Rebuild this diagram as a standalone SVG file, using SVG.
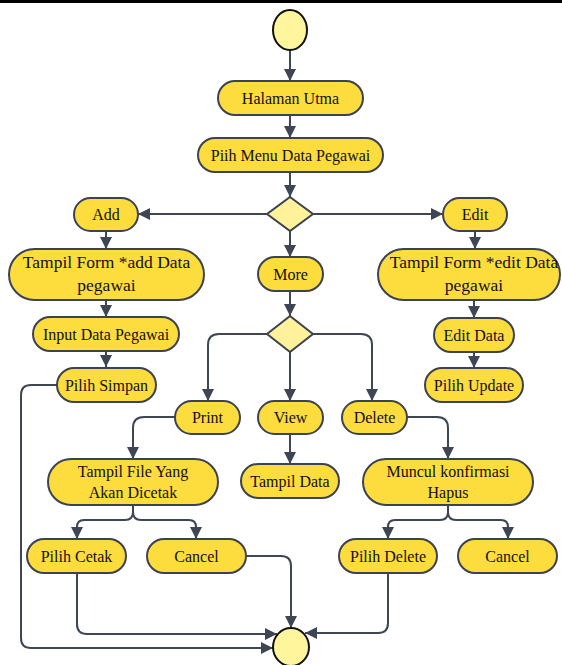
<svg xmlns="http://www.w3.org/2000/svg" width="562" height="665" viewBox="0 0 562 665">
<defs>
<style>
.n{fill:#FDDC3E;stroke:#3B4250;stroke-width:2}
.c{fill:#FFF59C;stroke:#111;stroke-width:2}
.d{fill:#FFF29A;stroke:#3B4250;stroke-width:2}
.t{font-size:16px;fill:#111;text-anchor:middle}
.tb{font-size:17.5px}
.e{fill:none;stroke:#3F4653;stroke-width:2;marker-end:url(#ah)}
</style>
<marker id="ah" viewBox="0 0 10 10" refX="10" refY="5" markerWidth="12" markerHeight="12" markerUnits="userSpaceOnUse" orient="auto">
<path d="M0,0 L10,5 L0,10 z" fill="#3F4653"/>
</marker>
</defs>
<rect x="0" y="0" width="562" height="3" fill="#000"/>
<g id="connectors">
<path class="e" d="M290,50 L290,81"/>
<path class="e" d="M290,115 L290,138"/>
<path class="e" d="M290,172 L290,197"/>
<path class="e" d="M267,214 L138,214"/>
<path class="e" d="M313,214 L443,214"/>
<path class="e" d="M290,231 L290,257"/>
<path class="e" d="M106,231 L106,249"/>
<path class="e" d="M106,300 L106,317"/>
<path class="e" d="M106,351 L106,367"/>
<path class="e" d="M290,291 L290,316"/>
<path class="e" d="M267,334 L219,334 Q208,334 208,345 L208,401"/>
<path class="e" d="M290,352 L290,401"/>
<path class="e" d="M313,334 L361,334 Q372,334 372,345 L372,401"/>
<path class="e" d="M175,417 L144,417 Q133,417 133,428 L133,459"/>
<path class="e" d="M290,434 L290,464"/>
<path class="e" d="M407,417 L437,417 Q448,417 448,428 L448,459"/>
<path class="e" d="M133,505 L133,512 Q133,520 125,520 L84,520 Q77,520 77,527 L77,539"/>
<path class="e" d="M133,505 L133,512 Q133,520 141,520 L189,520 Q196,520 196,527 L196,539"/>
<path class="e" d="M448,505 L448,512 Q448,520 440,520 L395,520 Q388,520 388,527 L388,539"/>
<path class="e" d="M448,505 L448,512 Q448,520 456,520 L501,520 Q508,520 508,527 L508,539"/>
<path class="e" d="M77,573 L77,624 Q77,634 87,634 L277,634"/>
<path class="e" d="M57,385 L31,385 Q21,385 21,395 L21,638 Q21,648 31,648 L273,648"/>
<path class="e" d="M246,556 L281,556 Q291,556 291,566 L291,628"/>
<path class="e" d="M388,573 L388,623 Q388,633 378,633 L305,633"/>
<path class="e" d="M475,231 L475,249"/>
<path class="e" d="M474,300 L474,318"/>
<path class="e" d="M474,352 L474,368"/>
</g>
<g font-family="'Liberation Serif', 'DejaVu Serif', serif">
<g id="start"><ellipse class="c" cx="290" cy="30" rx="17" ry="20"/></g>
<g id="halaman"><rect class="n" x="218" y="81" width="145" height="34" rx="17"/><text class="t" x="290.5" y="103.5">Halaman Utma</text></g>
<g id="piih"><rect class="n" x="198" y="138" width="185" height="34" rx="17"/><text class="t" x="290.5" y="160.5">Piih Menu Data Pegawai</text></g>
<g id="dec1"><polygon class="d" points="290,197 313,214 290,231 267,214"/></g>
<g id="add"><rect class="n" x="74" y="198" width="64" height="33" rx="16.5"/><text class="t" x="106" y="220">Add</text></g>
<g id="tampiladd"><rect class="n" x="9" y="249" width="195" height="51" rx="25.5"/><text class="t tb" x="106.5" y="268">Tampil Form *add Data</text><text class="t tb" x="106.5" y="291">pegawai</text></g>
<g id="input"><rect class="n" x="33" y="317" width="146" height="34" rx="17"/><text class="t" x="106" y="339.5">Input Data Pegawai</text></g>
<g id="simpan"><rect class="n" x="57" y="368" width="99" height="34" rx="17"/><text class="t" x="106.5" y="390.5">Pilih Simpan</text></g>
<g id="edit"><rect class="n" x="443" y="198" width="64" height="33" rx="16.5"/><text class="t" x="475" y="220">Edit</text></g>
<g id="tampiledit"><rect class="n" x="378" y="249" width="182" height="51" rx="25.5"/><text class="t tb" x="474" y="268">Tampil Form *edit Data</text><text class="t tb" x="474" y="291">pegawai</text></g>
<g id="editdata"><rect class="n" x="434" y="318" width="80" height="34" rx="17"/><text class="t" x="474" y="340.5">Edit Data</text></g>
<g id="update"><rect class="n" x="425" y="368" width="98" height="34" rx="17"/><text class="t" x="474" y="390.5">Pilih Update</text></g>
<g id="more"><rect class="n" x="258" y="257" width="65" height="34" rx="17"/><text class="t" x="290.5" y="279.5">More</text></g>
<g id="dec2"><polygon class="d" points="290,316 313,334 290,352 267,334"/></g>
<g id="print"><rect class="n" x="175" y="401" width="65" height="33" rx="16.5"/><text class="t" x="207.5" y="423">Print</text></g>
<g id="view"><rect class="n" x="258" y="401" width="65" height="33" rx="16.5"/><text class="t" x="290.5" y="423">View</text></g>
<g id="delete"><rect class="n" x="342" y="401" width="65" height="33" rx="16.5"/><text class="t" x="374.5" y="423">Delete</text></g>
<g id="tampilfile"><rect class="n" x="48" y="459" width="170" height="46" rx="23"/><text class="t" x="133" y="477">Tampil File Yang</text><text class="t" x="133" y="498">Akan Dicetak</text></g>
<g id="tampildata"><rect class="n" x="241" y="464" width="98" height="34" rx="17"/><text class="t" x="290" y="486.5">Tampil Data</text></g>
<g id="muncul"><rect class="n" x="363" y="459" width="170" height="46" rx="23"/><text class="t" x="448" y="477">Muncul konfirmasi</text><text class="t" x="448" y="498">Hapus</text></g>
<g id="cetak"><rect class="n" x="27" y="539" width="99" height="34" rx="17"/><text class="t" x="76.5" y="561.5">Pilih Cetak</text></g>
<g id="cancel1"><rect class="n" x="147" y="539" width="99" height="34" rx="17"/><text class="t" x="196.5" y="561.5">Cancel</text></g>
<g id="pilihdelete"><rect class="n" x="339" y="539" width="98" height="34" rx="17"/><text class="t" x="388" y="561.5">Pilih Delete</text></g>
<g id="cancel2"><rect class="n" x="458" y="539" width="99" height="34" rx="17"/><text class="t" x="507.5" y="561.5">Cancel</text></g>
<g id="end"><ellipse class="c" cx="291" cy="647" rx="18" ry="19"/></g>
</g>
</svg>
